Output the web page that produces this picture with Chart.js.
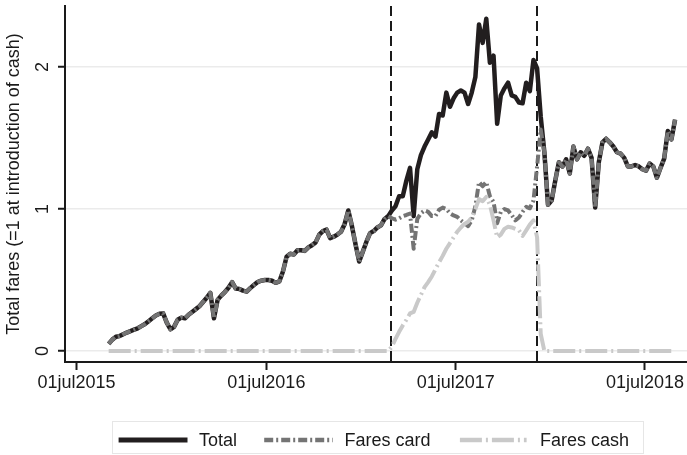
<!DOCTYPE html>
<html>
<head>
<meta charset="utf-8">
<script src="https://cdn.jsdelivr.net/npm/chart.js@4.4.1/dist/chart.umd.min.js"></script>
<style>
  html, body { margin: 0; padding: 0; background: #fff; }
  #wrap { position: relative; width: 687px; height: 455px; overflow: hidden;
          font-family: "Liberation Sans", Arial, Helvetica, sans-serif; color: #1a1a1a; }
  #c { position: absolute; left: 0; top: 0; }
  #legendLines { position: absolute; left: 0; top: 0; }
  .lg-text { position: absolute; font-size: 18px; line-height: 20px; height: 20px; white-space: nowrap; }
</style>
</head>
<body>
<div id="wrap">
  <canvas id="c" width="687" height="400"></canvas>
  <svg id="legendLines" width="687" height="455"></svg>
</div>
<script>
// Weekly fare revenue, indexed so that 1 = level at the introduction of cash payments
const firstWeek = '2015-09-01';

const totalFares = [
  0.05, 0.08, 0.10, 0.105, 0.118, 0.13, 0.14, 0.15, 0.16, 0.175,
  0.19, 0.21, 0.23, 0.25, 0.262, 0.265, 0.20, 0.153, 0.17, 0.22,
  0.235, 0.23, 0.255, 0.275, 0.295, 0.315, 0.345, 0.375, 0.41, 0.23,
  0.36, 0.39, 0.415, 0.445, 0.485, 0.44, 0.437, 0.425, 0.418, 0.443,
  0.465, 0.485, 0.495, 0.50, 0.50, 0.495, 0.48, 0.49, 0.56, 0.664,
  0.685, 0.68, 0.71, 0.71, 0.705, 0.73, 0.745, 0.765, 0.82, 0.845,
  0.855, 0.795, 0.805, 0.82, 0.84, 0.895, 0.99, 0.88, 0.75, 0.63,
  0.70, 0.77, 0.83, 0.845, 0.87, 0.885, 0.93, 0.95, 0.99, 1.02,
  1.09, 1.09, 1.20, 1.29, 0.95, 1.28, 1.38, 1.44, 1.49, 1.54,
  1.51, 1.67, 1.66, 1.82, 1.72, 1.78, 1.82, 1.835, 1.82, 1.74,
  1.82, 1.93, 2.30, 2.17, 2.34, 2.03, 2.08, 1.60, 1.80, 1.85,
  1.89, 1.80, 1.79, 1.75, 1.745, 1.89, 1.83, 2.05, 1.99, 1.65,
  1.40, 1.03, 1.06, 1.20, 1.33, 1.30, 1.35, 1.25, 1.44, 1.35,
  1.40, 1.375, 1.425, 1.36, 1.01, 1.33, 1.47, 1.495, 1.47, 1.44,
  1.40, 1.39, 1.36, 1.30, 1.30, 1.31, 1.30, 1.28, 1.27, 1.32,
  1.30, 1.22, 1.29, 1.355, 1.55, 1.49, 1.63
];

const cardFares = [
  0.05, 0.08, 0.10, 0.105, 0.118, 0.13, 0.14, 0.15, 0.16, 0.175,
  0.19, 0.21, 0.23, 0.25, 0.262, 0.265, 0.20, 0.153, 0.17, 0.22,
  0.235, 0.23, 0.255, 0.275, 0.295, 0.315, 0.345, 0.375, 0.41, 0.23,
  0.36, 0.39, 0.415, 0.445, 0.485, 0.44, 0.437, 0.425, 0.418, 0.443,
  0.465, 0.485, 0.495, 0.50, 0.50, 0.495, 0.48, 0.49, 0.56, 0.664,
  0.685, 0.68, 0.71, 0.71, 0.705, 0.73, 0.745, 0.765, 0.82, 0.845,
  0.855, 0.795, 0.805, 0.82, 0.84, 0.895, 0.99, 0.88, 0.75, 0.63,
  0.70, 0.77, 0.83, 0.845, 0.87, 0.885, 0.93, 0.95, 0.935, 0.925,
  0.935, 0.95, 0.958, 0.968, 0.72, 0.93, 0.97, 0.99, 0.98, 0.95,
  0.95, 0.995, 1.01, 1.00, 0.97, 0.955, 0.945, 0.92, 0.90, 0.88,
  0.92, 1.02, 1.19, 1.16, 1.19, 1.09, 1.05, 0.90, 0.98, 1.00,
  0.99, 0.958, 0.92, 0.94, 0.98, 1.015, 1.005, 1.06, 1.30, 1.56,
  1.40, 1.03, 1.06, 1.20, 1.33, 1.30, 1.35, 1.25, 1.44, 1.35,
  1.40, 1.375, 1.425, 1.36, 1.01, 1.33, 1.47, 1.495, 1.47, 1.44,
  1.40, 1.39, 1.36, 1.30, 1.30, 1.31, 1.30, 1.28, 1.27, 1.32,
  1.30, 1.22, 1.29, 1.355, 1.55, 1.49, 1.63
];

const cashFares = [
  0, 0, 0, 0, 0, 0, 0, 0, 0, 0,
  0, 0, 0, 0, 0, 0, 0, 0, 0, 0,
  0, 0, 0, 0, 0, 0, 0, 0, 0, 0,
  0, 0, 0, 0, 0, 0, 0, 0, 0, 0,
  0, 0, 0, 0, 0, 0, 0, 0, 0, 0,
  0, 0, 0, 0, 0, 0, 0, 0, 0, 0,
  0, 0, 0, 0, 0, 0, 0, 0, 0, 0,
  0, 0, 0, 0, 0, 0, 0, 0, 0.03, 0.085,
  0.135, 0.18, 0.22, 0.265, 0.275, 0.34, 0.395, 0.45, 0.485, 0.525,
  0.575, 0.625, 0.67, 0.72, 0.76, 0.80, 0.84, 0.87, 0.895, 0.91,
  0.94, 1.00, 1.07, 1.055, 1.085, 1.03, 0.92, 0.80, 0.82, 0.86,
  0.875, 0.87, 0.86, 0.85, 0.81, 0.85, 0.89, 0.92, 0.80, 0.12,
  0, 0, 0, 0, 0, 0, 0, 0, 0, 0,
  0, 0, 0, 0, 0, 0, 0, 0, 0, 0,
  0, 0, 0, 0, 0, 0, 0, 0, 0, 0,
  0, 0, 0, 0, 0, 0, 0
];

const seriesNames = ['Total', 'Fares card', 'Fares cash'];
const tickDates = ['2015-07-01', '2016-07-01', '2017-07-01', '2018-07-01'];
const tickLabels = ['01jul2015', '01jul2016', '01jul2017', '01jul2018'];
const yTicks = [0, 1, 2];
// cash payments introduced / withdrawn
const markerDates = ['2017-02-27', '2017-12-05'];

// ---- helpers ----
const DAY = 86400000;
const origin = Date.parse('2015-07-01');
const dayOf = s => (Date.parse(s) - origin) / DAY;
const weeks = totalFares.map((_, i) =>
  new Date(Date.parse(firstWeek) + 7 * i * DAY).toISOString().slice(0, 10));
const toPoints = vals => vals.map((v, i) => ({ x: dayOf(weeks[i]), y: v }));

const FONT = '"Liberation Sans", Arial, Helvetica, sans-serif';
const INK = '#1a1a1a';

const styles = [
  { color: '#221e1f', width: 4.5, dash: [] },
  { color: '#747474', width: 4, dash: [9, 3, 2, 3] },
  { color: '#c9c9c9', width: 4, dash: [22, 4, 2, 4] }
];
const seriesValues = [totalFares, cardFares, cashFares];

const datasets = seriesValues.map((vals, i) => ({
  label: seriesNames[i],
  data: toPoints(vals),
  borderColor: styles[i].color,
  borderWidth: styles[i].width,
  borderDash: styles[i].dash,
  borderJoinStyle: 'round',
  borderCapStyle: 'butt',
  pointRadius: 0,
  tension: 0,
  fill: false,
  order: 3 - i
}));

// dashed vertical markers for the cash period
const markerLines = {
  id: 'markerLines',
  beforeDatasetsDraw(chart) {
    const { ctx, chartArea, scales } = chart;
    ctx.save();
    ctx.strokeStyle = '#1a1a1a';
    ctx.lineWidth = 2;
    ctx.setLineDash([10, 5]);
    markerDates.forEach(d => {
      const x = Math.round(scales.x.getPixelForValue(dayOf(d)));
      ctx.beginPath();
      ctx.moveTo(x, chartArea.top);
      ctx.lineTo(x, chartArea.bottom);
      ctx.stroke();
    });
    ctx.restore();
  }
};

// y tick labels written sideways, reading upwards
const sidewaysYLabels = {
  id: 'sidewaysYLabels',
  afterDraw(chart) {
    const { ctx, scales } = chart;
    const y = scales.y;
    ctx.save();
    ctx.fillStyle = INK;
    ctx.font = '18px ' + FONT;
    ctx.textAlign = 'center';
    ctx.textBaseline = 'middle';
    y.ticks.forEach(t => {
      const py = y.getPixelForValue(t.value);
      ctx.save();
      ctx.translate(43, py);
      ctx.rotate(-Math.PI / 2);
      ctx.fillText(String(t.value), 0, 0);
      ctx.restore();
    });
    ctx.restore();
  }
};

new Chart(document.getElementById('c'), {
  type: 'line',
  data: { datasets },
  plugins: [markerLines, sidewaysYLabels],
  options: {
    responsive: false,
    animation: false,
    layout: { padding: { top: 6, left: 0, right: 0, bottom: 0 } },
    plugins: { legend: { display: false }, tooltip: { enabled: false } },
    scales: {
      x: {
        type: 'linear',
        min: -22.2,
        max: 1177,
        afterBuildTicks: s => { s.ticks = tickDates.map(d => ({ value: dayOf(d) })); },
        afterFit: s => { s.height = 38; s.paddingLeft = 0; s.paddingRight = 0; },
        grid: { drawOnChartArea: false, drawTicks: true, tickLength: 8, tickColor: '#1a1a1a', tickWidth: 2 },
        border: { display: true, color: '#1a1a1a', width: 2 },
        ticks: {
          autoSkip: false, maxRotation: 0, minRotation: 0, padding: 2,
          color: INK, font: { family: FONT, size: 18 },
          callback: (v, i) => tickLabels[i]
        }
      },
      y: {
        type: 'linear',
        min: -0.0775,
        max: 2.43,
        afterBuildTicks: s => { s.ticks = yTicks.map(v => ({ value: v })); },
        afterFit: s => { s.width = 65; s.paddingTop = 0; s.paddingBottom = 0; },
        grid: { color: '#ebebeb', lineWidth: 1.5, drawTicks: true, tickLength: 7, tickColor: '#1a1a1a', tickWidth: 2 },
        border: { display: true, color: '#1a1a1a', width: 2 },
        ticks: {
          padding: 10,
          color: 'rgba(0,0,0,0)', font: { family: FONT, size: 18 },
          callback: v => String(v)
        },
        title: {
          display: true,
          text: 'Total fares (=1 at introduction of cash)',
          color: INK,
          font: { family: FONT, size: 18 },
          padding: { top: 3, bottom: 0 }
        }
      }
    }
  }
});

// legend below the plot
const svgNS = 'http://www.w3.org/2000/svg';
const svg = document.getElementById('legendLines');
const box = document.createElementNS(svgNS, 'rect');
box.setAttribute('x', 112.5); box.setAttribute('y', 421.5);
box.setAttribute('width', 531); box.setAttribute('height', 32);
box.setAttribute('fill', 'none'); box.setAttribute('stroke', '#e6e6e6');
svg.appendChild(box);

const legendSlots = [
  { x1: 118.6, x2: 187.5, tx: 199 },
  { x1: 264.2, x2: 332.8, tx: 344.5 },
  { x1: 459.9, x2: 526.6, tx: 540 }
];
const legendY = 440;
legendSlots.forEach((slot, i) => {
  const ln = document.createElementNS(svgNS, 'line');
  ln.setAttribute('x1', slot.x1); ln.setAttribute('x2', slot.x2);
  ln.setAttribute('y1', legendY); ln.setAttribute('y2', legendY);
  ln.setAttribute('stroke', styles[i].color);
  ln.setAttribute('stroke-width', i === 0 ? 5 : 4.5);
  if (styles[i].dash.length) ln.setAttribute('stroke-dasharray', styles[i].dash.join(' '));
  svg.appendChild(ln);
  const t = document.createElement('div');
  t.className = 'lg-text';
  t.textContent = seriesNames[i];
  t.style.left = slot.tx + 'px';
  t.style.top = (legendY - 10) + 'px';
  document.getElementById('wrap').appendChild(t);
});
</script>
</body>
</html>
